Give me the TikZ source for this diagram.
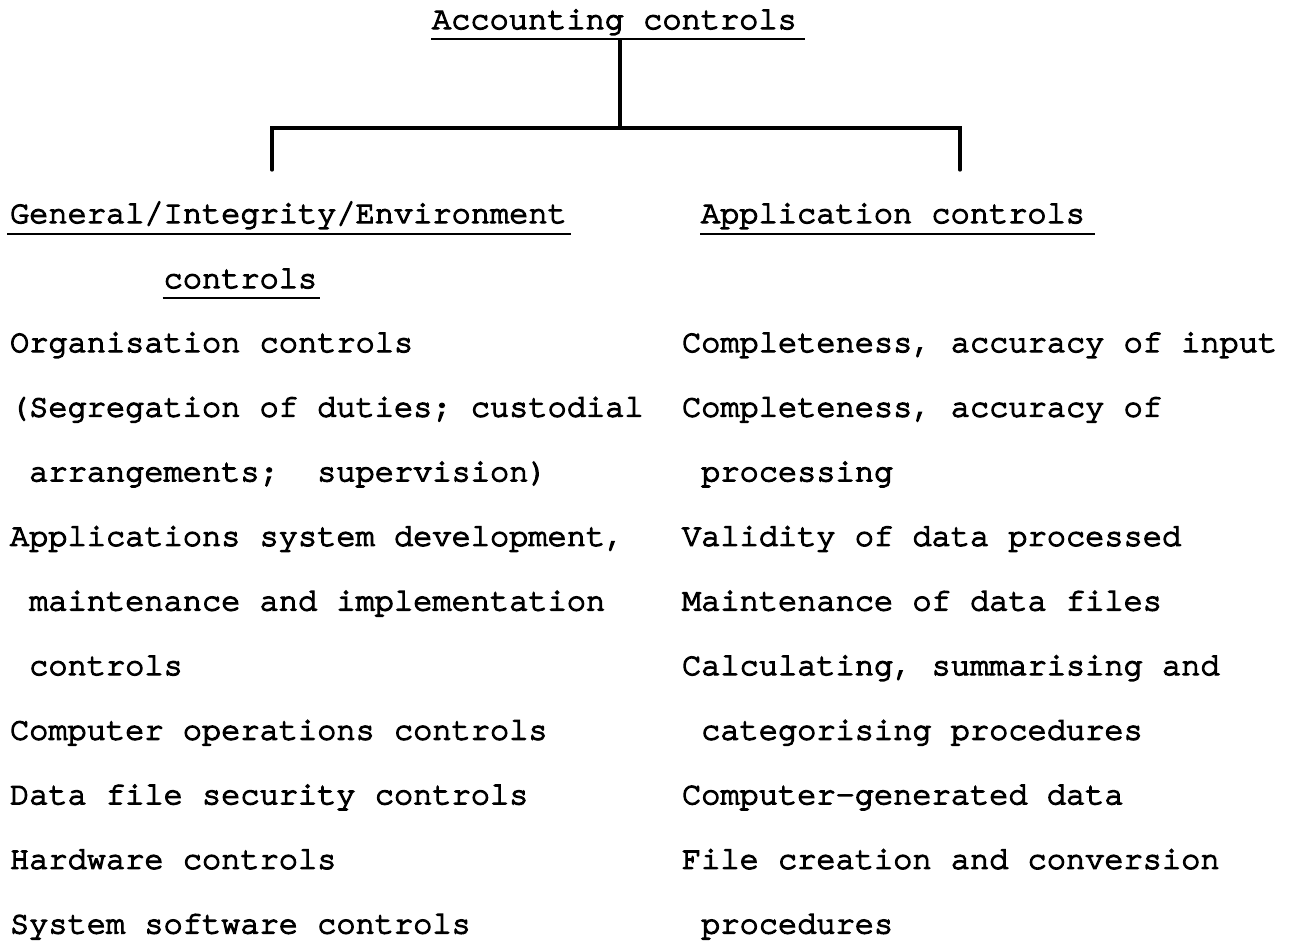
\documentclass[tikz,border=0pt]{standalone}
\usepackage{fontspec}
\newfontfamily\tw{TeX Gyre Cursor}[FakeBold=4,Ligatures=NoCommon]
\begin{document}
\begin{tikzpicture}[x=1pt,y=-1pt,
  txt/.style={anchor=base west,inner sep=0pt,outer sep=0pt,font=\tw\fontsize{32}{38}\selectfont},
  uline/.style={line width=2.8pt},
  tree/.style={line width=3.2pt,line cap=round,line join=miter}]
\useasboundingbox (0,0) rectangle (1296,940);
\fill[white] (0,0) rectangle (1296,940);
% header
\node[txt] (acc) at (432,29) {Accounting controls};
\draw[uline] ([xshift=-1pt,yshift=-10pt]acc.base west) -- ([xshift=8pt,yshift=-10pt]acc.base east);
% tree
\coordinate (top) at (620,40);
\coordinate (mid) at (620,128);
\coordinate (lt) at (272,128);
\coordinate (rt) at (960,128);
\coordinate (lb) at (272,170);
\coordinate (rb) at (960,170);
\draw[tree] (top) -- (mid);
\draw[tree] (lb) -- (lt) -- (rt) -- (rb);
% column heads
\node[txt] (gen) at (10,223) {General/Integrity/Environment};
\draw[uline] ([xshift=-3pt,yshift=-11pt]gen.base west) -- ([xshift=4pt,yshift=-11pt]gen.base east);
\node[txt] (gen2) at (163.6,288) {controls};
\draw[uline] ([xshift=-1pt,yshift=-10pt]gen2.base west) -- ([xshift=3pt,yshift=-10pt]gen2.base east);
\node[txt] (app) at (701,223) {Application controls};
\draw[uline] ([xshift=-1pt,yshift=-11pt]app.base west) -- ([xshift=10pt,yshift=-11pt]app.base east);
% left column
\node[txt] (l1) at (10,352) {Organisation controls};
\node[txt] (l2) at (10,416.6) {(Segregation of duties; custodial};
\node[txt] (l3) at (29.2,481.2) {arrangements;\ \ supervision)};
\node[txt] (l4) at (10,545.8) {Applications system development,};
\node[txt] (l5) at (29.2,610.4) {maintenance and implementation};
\node[txt] (l6) at (29.2,675) {controls};
\node[txt] (l7) at (10,739.6) {Computer operations controls};
\node[txt] (l8) at (10,804.2) {Data file security controls};
\node[txt] (l9) at (10,868.8) {Hardware controls};
\node[txt] (l10) at (10,933.4) {System software controls};
% right column
\node[txt] (r1) at (682,352) {Completeness, accuracy of input};
\node[txt] (r2) at (682,416.6) {Completeness, accuracy of};
\node[txt] (r3) at (701.2,481.2) {processing};
\node[txt] (r4) at (682,545.8) {Validity of data processed};
\node[txt] (r5) at (682,610.4) {Maintenance of data files};
\node[txt] (r6) at (682,675) {Calculating, summarising and};
\node[txt] (r7) at (701.2,739.6) {categorising procedures};
\node[txt] (r8) at (682,804.2) {Computer-generated data};
\node[txt] (r9) at (682,868.8) {File creation and conversion};
\node[txt] (r10) at (701.2,933.4) {procedures};
\end{tikzpicture}
\end{document}
